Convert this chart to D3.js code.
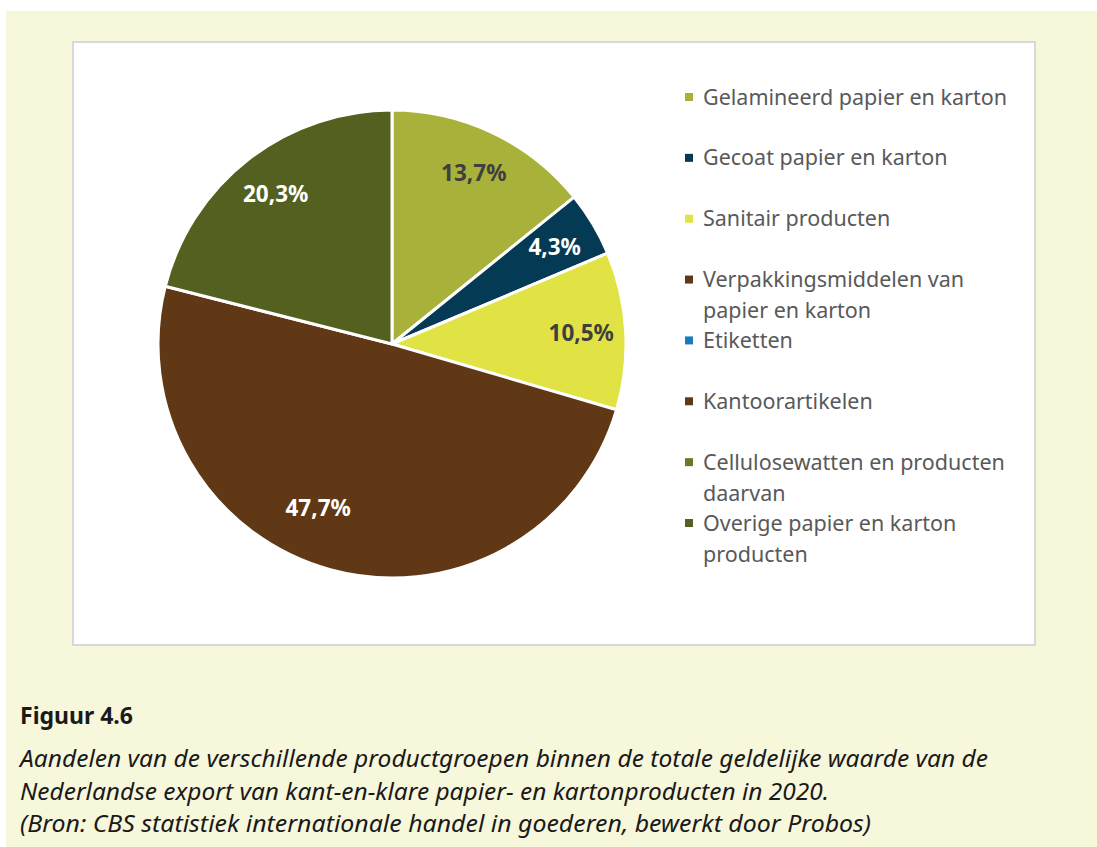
<!DOCTYPE html>
<html>
<head>
<meta charset="utf-8">
<script src="https://cdn.jsdelivr.net/npm/d3@7"></script>
<style>
  html, body { margin: 0; padding: 0; background: #ffffff; }
  svg { display: block; }
</style>
</head>
<body>
<svg id="chart" width="1097" height="847"></svg>
<script>
// ---- data ----
const categories = [
  "Gelamineerd papier en karton",
  "Gecoat papier en karton",
  "Sanitair producten",
  "Verpakkingsmiddelen van\npapier en karton",
  "Etiketten",
  "Kantoorartikelen",
  "Cellulosewatten en producten\ndaarvan",
  "Overige papier en karton\nproducten"
];
const shares = [13.7, 4.3, 10.5, 47.7, 0, 0, 0, 20.3];
const colors = ["#a8b23a", "#053a55", "#e1e344", "#603815", "#1a7abf", "#603815", "#6b7a2a", "#546020"];
const labelColors = ["#3f3f3f", "#ffffff", "#3f3f3f", "#ffffff", "#ffffff", "#ffffff", "#ffffff", "#ffffff"];
const figTitle = "Figuur 4.6";
const captionLines = [
  "Aandelen van de verschillende productgroepen binnen de totale geldelijke waarde van de",
  "Nederlandse export van kant-en-klare papier- en kartonproducten in 2020.",
  "(Bron: CBS statistiek internationale handel in goederen, bewerkt door Probos)"
];

// ---- layout ----
const svg = d3.select("#chart");
const font = "'Noto Sans', 'Open Sans', sans-serif";

svg.append("rect").attr("x", 6).attr("y", 11).attr("width", 1091).attr("height", 836).attr("fill", "#f7f7dc");
svg.append("rect").attr("x", 73).attr("y", 42).attr("width", 962).attr("height", 603)
  .attr("fill", "#ffffff").attr("stroke", "#d9d9d9").attr("stroke-width", 2);

const cx = 392, cy = 344, R = 234;
const data = categories.map((c, i) => ({ name: c, value: shares[i], color: colors[i], lc: labelColors[i] }));
const pie = d3.pie().sort(null).value(d => d.value);
const arcs = pie(data).filter(a => a.data.value > 0);
const arc = d3.arc().innerRadius(0).outerRadius(R);
const labelArc = d3.arc().innerRadius(R * 0.81).outerRadius(R * 0.81);

const g = svg.append("g").attr("transform", `translate(${cx},${cy})`);
g.selectAll("path.slice").data(arcs).join("path")
  .attr("class", "slice")
  .attr("d", arc)
  .attr("fill", d => d.data.color)
  .attr("stroke", "#ffffff")
  .attr("stroke-width", 3)
  .attr("stroke-linejoin", "round");

// label placement: centroid on a ring; the largest slice's label leans toward its start (like Excel best fit)
const maxVal = d3.max(shares);
g.selectAll("text.lbl").data(arcs).join("text")
  .attr("class", "lbl")
  .attr("transform", d => {
    let a = (d.startAngle + d.endAngle) / 2;
    let r = R * 0.81;
    if (d.data.value === maxVal) { a = d.startAngle + (d.endAngle - d.startAngle) * 0.55; r = R * 0.77; }
    return `translate(${r * Math.sin(a)},${-r * Math.cos(a)})`;
  })
  .attr("text-anchor", "middle")
  .attr("dy", "0.35em")
  .attr("font-family", font)
  .attr("font-weight", "bold")
  .attr("font-size", 22.5)
  .attr("fill", d => d.data.lc)
  .text(d => d.data.value.toFixed(1).replace(".", ",") + "%");

// ---- legend ----
const legendY = d3.scalePoint().domain(d3.range(categories.length)).range([97, 523]);
const leg = svg.append("g");
data.forEach((d, i) => {
  const y = legendY(i);
  leg.append("rect").attr("x", 685).attr("y", y - 4).attr("width", 8).attr("height", 8).attr("fill", d.color);
  const t = leg.append("text")
    .attr("x", 703).attr("y", y)
    .attr("font-family", font)
    .attr("font-size", 21.5)
    .attr("fill", "#595959");
  d.name.split("\n").forEach((line, j) => {
    t.append("tspan").attr("x", 703).attr("dy", j === 0 ? "0.35em" : 31).text(line);
  });
});

// ---- caption ----
svg.append("text").attr("x", 20).attr("y", 724)
  .attr("font-family", font).attr("font-weight", "bold").attr("font-size", 23)
  .attr("fill", "#1a1a1a")
  .attr("textLength", 113).attr("lengthAdjust", "spacingAndGlyphs")
  .text(figTitle);
const capW = [968, 809, 851];
captionLines.forEach((line, i) => {
  svg.append("text").attr("x", 20).attr("y", 767 + i * 32.5)
    .attr("font-family", font).attr("font-style", "italic").attr("font-size", 24)
    .attr("fill", "#1a1a1a")
    .attr("textLength", capW[i]).attr("lengthAdjust", "spacingAndGlyphs")
    .text(line);
});
</script>
</body>
</html>
